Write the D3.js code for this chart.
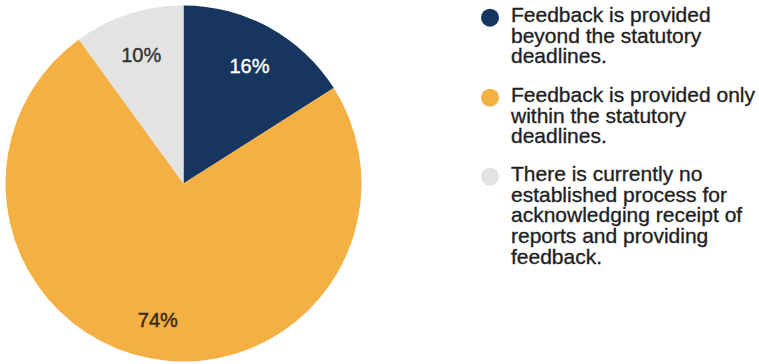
<!DOCTYPE html>
<html>
<head>
<meta charset="utf-8">
<script src="https://cdn.jsdelivr.net/npm/d3@7"></script>
<style>
  html, body { margin: 0; padding: 0; background: #ffffff; }
  svg { display: block; }
  text { font-family: "Liberation Sans", Arial, Helvetica, sans-serif; }
</style>
</head>
<body>
<svg id="chart" width="759" height="364"></svg>
<script>
// Share of respondents by how feedback on reports is handled
const categories = [
  "Feedback is provided beyond the statutory deadlines.",
  "Feedback is provided only within the statutory deadlines.",
  "There is currently no established process for acknowledging receipt of reports and providing feedback."
];
const values = [16, 74, 10];
const valueLabels = ["16%", "74%", "10%"];
// Legend text, wrapped into lines
const legendLines = [
  ["Feedback is provided", "beyond the statutory", "deadlines."],
  ["Feedback is provided only", "within the statutory", "deadlines."],
  ["There is currently no", "established process for", "acknowledging receipt of", "reports and providing", "feedback."]
];
const colors = ["#16365f", "#f4b042", "#e3e4e2"];
const labelColors = ["#ffffff", "#33291a", "#333333"];

const svg = d3.select("#chart");

const cx = 183.5, cy = 183.5, radius = 178;

const pie = d3.pie().value(d => d).sort(null);
const arcs = pie(values);
const arc = d3.arc().innerRadius(0).outerRadius(radius);
const labelArc = d3.arc().innerRadius(137).outerRadius(137);

const g = svg.append("g").attr("transform", `translate(${cx},${cy})`);

g.selectAll("path.slice")
  .data(arcs)
  .join("path")
  .attr("class", "slice")
  .attr("d", arc)
  .attr("fill", (d, i) => colors[i]);

g.selectAll("text.val")
  .data(arcs)
  .join("text")
  .attr("class", "val")
  .attr("transform", d => {
    const [x, y] = labelArc.centroid(d);
    return `translate(${x},${y + 2})`;
  })
  .attr("text-anchor", "middle")
  .attr("dy", "0.36em")
  .attr("font-size", 20)
  .attr("fill", (d, i) => labelColors[i])
  .attr("stroke", (d, i) => labelColors[i])
  .attr("stroke-width", 0.4)
  .text((d, i) => valueLabels[i]);

// Legend
const legendX = 490, textX = 511, lineH = 20.8;
const itemBaselines = [21.7, 101.7, 180.7];

const items = svg.selectAll("g.legend")
  .data(categories)
  .join("g")
  .attr("class", "legend");

items.append("circle")
  .attr("cx", legendX)
  .attr("cy", (d, i) => itemBaselines[i] - 4)
  .attr("r", 9)
  .attr("fill", (d, i) => colors[i]);

items.append("text")
  .attr("x", textX)
  .attr("y", (d, i) => itemBaselines[i])
  .attr("font-size", 21)
  .attr("fill", "#1f1f1f")
  .attr("stroke", "#1f1f1f")
  .attr("stroke-width", 0.35)
  .each(function(d, i) {
    d3.select(this).selectAll("tspan")
      .data(legendLines[i])
      .join("tspan")
      .attr("x", textX)
      .attr("dy", (t, j) => j === 0 ? 0 : lineH)
      .text(t => t);
  });
</script>
</body>
</html>
